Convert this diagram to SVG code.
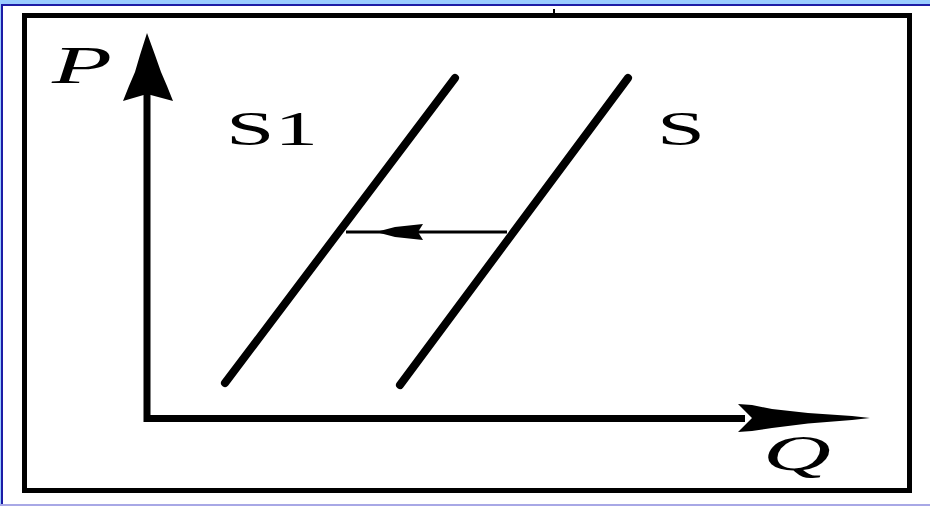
<svg xmlns="http://www.w3.org/2000/svg" width="930" height="506" viewBox="0 0 930 506">
<style>
.frame{fill:none;stroke:#000;stroke-width:5}
.axis{stroke:#000;stroke-width:7;fill:none}
.curve{stroke:#000;stroke-width:8;stroke-linecap:round;fill:none}
.shift{stroke:#000;stroke-width:3;fill:none}
.head{fill:#000}
.lbl{font-family:"Liberation Serif","DejaVu Serif",serif;fill:#000}
.it{font-style:italic}
</style>
<rect x="0" y="0" width="930" height="506" fill="#fff"/>
<rect x="0" y="0" width="930" height="4" fill="#99ccff"/>
<rect x="0" y="4" width="930" height="2" fill="#1c1ca6"/>
<rect x="0" y="4" width="1" height="502" fill="#99ccff"/>
<rect x="1" y="4" width="2" height="502" fill="#1c1ca6"/>
<rect x="0" y="504" width="930" height="2" fill="#a8a8e6"/>
<rect class="frame" x="24.5" y="15.5" width="885" height="475"/>
<line x1="554" y1="9" x2="554" y2="14" stroke="#000" stroke-width="2"/>
<g id="connectors">
<line id="p-axis" class="axis" x1="147" y1="422" x2="147" y2="92"/>
<path class="head" d="M147,33 L155,55 L161,72 L167,86 L173,101 L147,94 L123,101 L129,86 L135,72 L140,55 Z"/>
<line id="q-axis" class="axis" x1="144" y1="418.5" x2="745" y2="418.5"/>
<path class="head" d="M870,418 L852,416 L808,413 L772,409 L752,405 L738,404 L752,418 L738,432 L752,431 L772,428 L808,423.5 L852,420 Z"/>
<line id="shift" class="shift" x1="346" y1="232" x2="507" y2="232"/>
<path class="head" d="M376,232 L395,227 L423,224 L418,232 L423,240 L395,237 Z"/>
</g>
<g id="S1">
<line class="curve" x1="225" y1="383" x2="455" y2="78"/>
<text class="lbl" x="226" y="145" font-size="48" textLength="92" lengthAdjust="spacingAndGlyphs">S1</text>
</g>
<g id="S">
<line class="curve" x1="400" y1="385" x2="628" y2="78"/>
<text class="lbl" x="657" y="145" font-size="48" textLength="48" lengthAdjust="spacingAndGlyphs">S</text>
</g>
<g id="P">
<text class="lbl it" x="52" y="83" font-size="52" textLength="60" lengthAdjust="spacingAndGlyphs">P</text>
</g>
<g id="Q">
<text class="lbl it" x="763" y="470" font-size="50" textLength="68" lengthAdjust="spacingAndGlyphs">Q</text>
</g>
</svg>
